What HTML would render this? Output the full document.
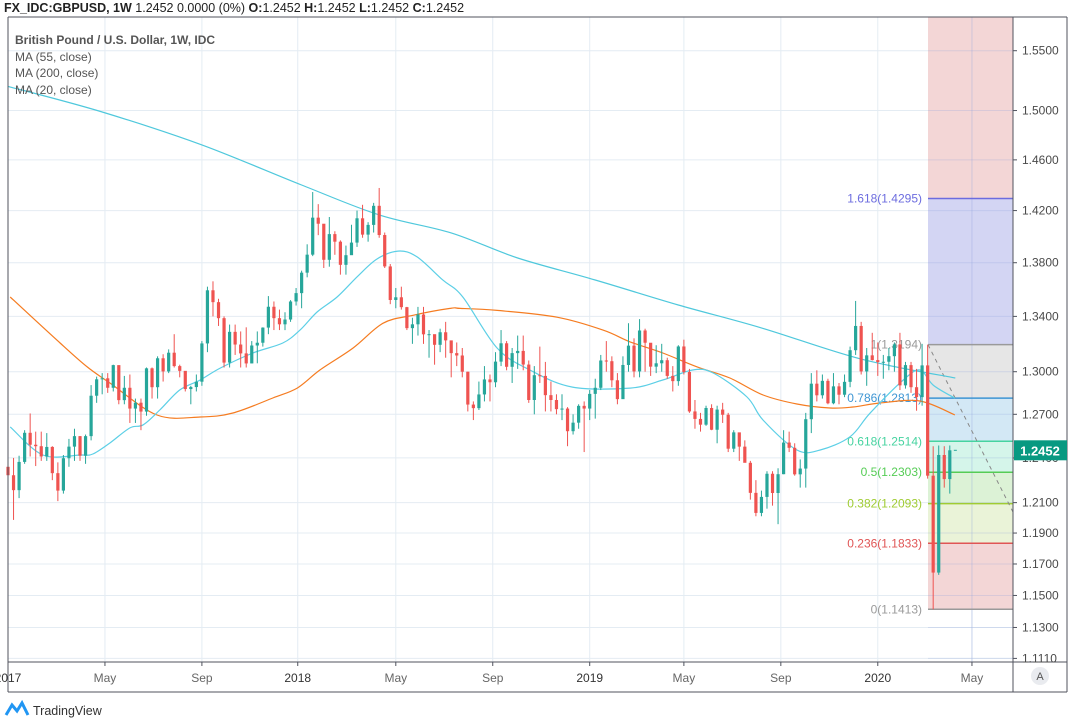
<!DOCTYPE html>
<html><head><meta charset="utf-8">
<style>
html,body{margin:0;padding:0;background:#fff;width:1069px;height:719px;overflow:hidden;font-family:"Liberation Sans",sans-serif;}
svg{display:block}
</style></head>
<body>
<svg id="chart" width="1069" height="719" xmlns="http://www.w3.org/2000/svg">
<text x="4" y="12" font-size="12.5" fill="#222"><tspan font-weight="bold">FX_IDC:GBPUSD, 1W</tspan> 1.2452 0.0000 (0%) <tspan font-weight="bold">O:</tspan>1.2452 <tspan font-weight="bold">H:</tspan>1.2452 <tspan font-weight="bold">L:</tspan>1.2452 <tspan font-weight="bold">C:</tspan>1.2452</text>
<g id="grid"></g>
<g id="fib"></g>
<g id="mas"></g>
<g id="candles"></g>
<g id="axes"></g>
<g font-size="12" fill="#555">
<text x="15" y="44" font-weight="bold">British Pound / U.S. Dollar, 1W, IDC</text>
<text x="15" y="61">MA (55, close)</text>
<text x="15" y="77">MA (200, close)</text>
<text x="15" y="94">MA (20, close)</text>
</g>
<g>
<path d="M6 715 L12 705 L17 711 L22 703 L28 715" fill="none" stroke="#2196f3" stroke-width="3"/>
<text x="33" y="715" font-size="12.5" fill="#333">TradingView</text>
</g>
</svg>
<script>
const closes=[1.2283,1.2183,1.2373,1.2572,1.2490,1.2480,1.2410,1.2475,1.2297,1.2180,1.2398,1.2477,1.2549,1.2415,1.2549,1.2830,1.2946,1.2953,1.2886,1.3047,1.2799,1.2886,1.2740,1.2781,1.2719,1.3024,1.2890,1.3096,1.3002,1.3136,1.3040,1.3006,1.2877,1.2891,1.2929,1.3203,1.3593,1.3505,1.3387,1.3065,1.3287,1.3195,1.3131,1.3059,1.3188,1.3208,1.3318,1.3471,1.3387,1.3342,1.3377,1.3510,
1.3572,1.3725,1.3861,1.4145,1.4098,1.3822,1.4018,1.3960,1.3784,1.3857,1.3953,1.4140,1.4014,1.4089,1.4237,1.4011,1.3772,1.3521,1.3541,1.3468,1.3314,1.3342,1.3414,1.3269,1.3270,1.3193,1.3284,1.3225,1.3133,1.3116,1.3000,1.2768,1.2743,1.2839,1.2945,1.2925,1.3072,1.3204,1.3035,1.3133,1.3149,1.3051,1.2800,1.2975,1.2970,1.2834,1.2800,1.2736,1.2740,1.2583,1.2642,1.2759,
1.2740,1.2843,1.2886,1.3080,1.3075,1.2939,1.2806,1.3048,1.3187,1.3002,1.3297,1.3208,1.3036,1.3060,1.3082,1.2970,1.2933,1.3181,1.2998,1.2720,1.2668,1.2628,1.2744,1.2593,1.2733,1.2697,1.2463,1.2575,1.2477,1.2367,1.2165,1.2032,1.2138,1.2293,1.2164,1.2290,1.2505,1.2469,1.2289,1.2328,1.2666,1.2915,1.2833,1.2935,1.2777,1.2896,1.2837,1.2928,1.3154,1.3330,1.3002,1.3117,1.3083,
1.3069,1.3071,1.3111,1.3196,1.2903,1.3047,1.2890,1.2820,1.3045,1.2280,1.1645,1.2420,1.2257,1.2452,1.2452];
const highs=[1.2430,1.2400,1.2415,1.2590,1.2706,1.2580,1.2580,1.2570,1.2480,1.2370,1.2420,1.2530,1.2600,1.2550,1.2560,1.2905,1.2965,1.2990,1.2990,1.3050,1.3045,1.2970,1.2980,1.2810,1.2810,1.3030,1.3030,1.3110,1.3125,1.3160,1.3270,1.3050,1.2980,1.2900,1.2980,1.3220,1.3620,1.3660,1.3530,1.3400,1.3340,1.3340,1.3290,1.3320,1.3220,1.3290,1.3320,1.3550,1.3510,1.3450,1.3430,1.3520,
1.3610,1.3740,1.3940,1.4345,1.4250,1.4070,1.4150,1.4040,1.3970,1.3930,1.4090,1.4200,1.4245,1.4110,1.4260,1.4377,1.4030,1.3790,1.3610,1.3620,1.3470,1.3390,1.3470,1.3470,1.3300,1.3260,1.3310,1.3360,1.3200,1.3210,1.3170,1.3000,1.2790,1.2930,1.3040,1.2980,1.3140,1.3300,1.3220,1.3170,1.3260,1.3260,1.3080,1.3040,1.3180,1.3070,1.2930,1.2840,1.2840,1.2750,1.2700,1.2770,
1.2790,1.2870,1.2950,1.3120,1.3220,1.3110,1.2990,1.3110,1.3350,1.3240,1.3380,1.3310,1.3200,1.3190,1.3200,1.3100,1.3040,1.3190,1.3230,1.3020,1.2800,1.2710,1.2760,1.2770,1.2760,1.2780,1.2710,1.2590,1.2530,1.2520,1.2380,1.2250,1.2180,1.2310,1.2310,1.2330,1.2590,1.2580,1.2500,1.2390,1.2710,1.2990,1.3010,1.2980,1.2950,1.2990,1.2920,1.2980,1.3180,1.3514,1.3360,1.3170,1.3280,
1.3210,1.3120,1.3170,1.3210,1.3280,1.3070,1.3070,1.3020,1.3200,1.3194,1.2480,1.2485,1.2480,1.2485,1.2452];
const lows=[1.2200,1.1986,1.2130,1.2360,1.2410,1.2345,1.2380,1.2380,1.2250,1.2110,1.2160,1.2340,1.2380,1.2380,1.2360,1.2520,1.2780,1.2840,1.2850,1.2860,1.2770,1.2770,1.2640,1.2640,1.2590,1.2690,1.2810,1.2810,1.2930,1.2990,1.3030,1.2960,1.2860,1.2770,1.2860,1.2900,1.3140,1.3400,1.3330,1.3030,1.3030,1.3120,1.3030,1.3030,1.3060,1.3060,1.3180,1.3270,1.3300,1.3300,1.3300,1.3360,
1.3480,1.3460,1.3690,1.3850,1.4010,1.3760,1.3770,1.3860,1.3710,1.3710,1.3860,1.3920,1.3990,1.3960,1.4030,1.3990,1.3760,1.3490,1.3460,1.3450,1.3300,1.3200,1.3260,1.3200,1.3100,1.3050,1.3140,1.3100,1.2960,1.3040,1.2960,1.2720,1.2660,1.2730,1.2790,1.2790,1.2890,1.3040,1.3010,1.2920,1.3020,1.3010,1.2780,1.2700,1.2920,1.2720,1.2720,1.2700,1.2660,1.2480,1.2560,1.2600,
1.2440,1.2660,1.2670,1.2870,1.3000,1.2890,1.2770,1.2810,1.3000,1.2960,1.2960,1.3000,1.2970,1.2990,1.3000,1.2950,1.2860,1.2900,1.2980,1.2710,1.2600,1.2580,1.2620,1.2590,1.2500,1.2640,1.2440,1.2440,1.2380,1.2370,1.2120,1.2010,1.2010,1.2060,1.2080,1.1958,1.2290,1.2440,1.2280,1.2200,1.2200,1.2570,1.2790,1.2810,1.2770,1.2770,1.2770,1.2820,1.2890,1.3120,1.2980,1.2900,1.3080,
1.2970,1.2950,1.3010,1.3000,1.2870,1.2880,1.2850,1.2725,1.2760,1.2260,1.1413,1.1630,1.2200,1.2160,1.2452];
const firstOpen=1.2340;
const ma200Weeks=[0,17,35,53,67,80,92,106,121,136,154,171];
const ma200Vals=[1.520,1.4988,1.472,1.440,1.4166,1.4027,1.3836,1.367,1.3484,1.3316,1.309,1.2955];
const ma55Weeks=[0.4,9.4,14.3,18.4,26.9,34.7,40.6,47.8,52.2,56.3,62.3,67.7,73.1,79.8,81.6,88.3,99.1,107.4,112.3,118.2,124.4,130.3,136.3,142.4,148.4,152.5,157.4,164.6,170.9];
const ma55Vals=[1.3543,1.3206,1.3034,1.2920,1.2695,1.2681,1.2709,1.2814,1.2884,1.3012,1.3170,1.3350,1.3408,1.3459,1.3459,1.3444,1.3394,1.3300,1.3214,1.3134,1.3034,1.2955,1.2835,1.2772,1.2744,1.2751,1.2779,1.2793,1.2696];
const ma20Weeks=[0.4,6.3,13,15.3,18.4,22,24.4,27.4,31,34.7,38.3,44.2,49.6,52.7,55.8,59.4,63,66.6,70.4,73.8,78.5,82.1,88.3,94.2,101.9,112.3,118.2,123.6,127.3,133.4,136.3,142.4,146.6,152,155.6,161.6,164.6,167,170.9];
const ma20Vals=[1.2613,1.2420,1.2420,1.2427,1.2502,1.2606,1.2627,1.2730,1.2870,1.2941,1.3026,1.3134,1.3206,1.3300,1.3432,1.3543,1.3693,1.3828,1.3888,1.3845,1.3669,1.3543,1.3169,1.3012,1.2891,1.2884,1.2941,1.3012,1.2991,1.2821,1.2660,1.2454,1.2454,1.2545,1.2708,1.2941,1.3012,1.2905,1.2813];
const priceTicks=[1.55,1.50,1.46,1.42,1.38,1.34,1.30,1.27,1.24,1.21,1.19,1.17,1.15,1.13,1.111];
const priceTickLabels=["1.5500","1.5000","1.4600","1.4200","1.3800","1.3400","1.3000","1.2700","1.2400","1.2100","1.1900","1.1700","1.1500","1.1300","1.1110"];
const timeTickWeeks=[0,17.5,35,52.3,70,87.5,105,122,139.5,157,174];
const timeTickLabels=["2017","May","Sep","2018","May","Sep","2019","May","Sep","2020","May"];
const fibRatios=[1.618,1,0.786,0.618,0.5,0.382,0.236,0];
const fibLevelLabels=["1.4295","1.3194","1.2813","1.2514","1.2303","1.2093","1.1833","1.1413"];
const fibLow=1.1413, fibHigh=1.3194;
const lastPrice=1.2452;

const NS="http://www.w3.org/2000/svg";
const PL=8,PR=1013,PT=17,PB=662;
const X=w=>8+5.54*w;
const Y=p=>371.7-1825*Math.log(p/1.3);
function mk(parent,tag,attrs){const e=document.createElementNS(NS,tag);for(const k in attrs)e.setAttribute(k,attrs[k]);parent.appendChild(e);return e;}
const grid=document.getElementById('grid'),fib=document.getElementById('fib'),mas=document.getElementById('mas'),cg=document.getElementById('candles'),axes=document.getElementById('axes');

priceTicks.forEach((p,i)=>{const y=Y(p);
 const l=mk(grid,'line',{x1:PL,x2:PR,y1:y,y2:y,stroke:'#e4ecf3','stroke-width':1});
 
 
});
timeTickWeeks.forEach(w=>{const x=X(w);
 const l=mk(grid,'line',{x1:x,x2:x,y1:PT,y2:PB,stroke:'#e4ecf3','stroke-width':1});
 
 
});

const fx1=928,fx2=PR;
const fibCols=['#6c6cdf','#9a9a9a','#3d95d3','#46d3a0','#55cc55','#a0cc33','#e05555','#9a9a9a'];
const fibFills=['#d3d5f3','#e6e6e6','#d3e8f5','#d5f5ea','#dcf2d6','#eaf3d8','#f3d6d6'];
const fibLvl=fibRatios.map(r=>fibLow+(fibHigh-fibLow)*r);
{const r=mk(fib,'rect',{x:fx1,y:PT,width:fx2-fx1,height:Y(fibLvl[0])-PT,fill:'#f3d6d6'});
 
 }
for(let i=0;i<fibLvl.length-1;i++){
 const r=mk(fib,'rect',{x:fx1,y:Y(fibLvl[i]),width:fx2-fx1,height:Y(fibLvl[i+1])-Y(fibLvl[i]),fill:fibFills[i]});
 
 
}
timeTickWeeks.forEach(w=>{const x=X(w);if(x>fx1&&x<fx2){
 const l=mk(fib,'line',{x1:x,x2:x,y1:PT,y2:PB,stroke:'rgba(140,160,220,0.35)'});
 
 }});
priceTicks.forEach(p=>{const y=Y(p);
 const l=mk(fib,'line',{x1:fx1,x2:fx2,y1:y,y2:y,stroke:'rgba(140,160,220,0.25)'});
 
 });
fibLvl.forEach((p,i)=>{const y=Y(p);
 const l=mk(fib,'line',{x1:fx1,x2:fx2,y1:y,y2:y,stroke:fibCols[i],'stroke-width':1.5});
 
 
 const t=mk(fib,'text',{x:922,y:y+4,'text-anchor':'end','font-size':12,fill:fibCols[i]});
 t.textContent=fibRatios[i]+'('+fibLevelLabels[i]+')';
 
 
});
{const l=mk(fib,'line',{x1:fx1,y1:Y(fibHigh),x2:fx2,y2:512,stroke:'#888','stroke-width':1,'stroke-dasharray':'4,4'});
 
 }

function maLine(ws,vs,col,name){
 const pts=ws.map((w,i)=>[X(w),Y(vs[i])]);
 let d='M'+pts[0][0].toFixed(1)+' '+pts[0][1].toFixed(1);
 for(let i=0;i<pts.length-1;i++){
  const p0=pts[Math.max(0,i-1)],p1=pts[i],p2=pts[i+1],p3=pts[Math.min(pts.length-1,i+2)];
  const c1=[p1[0]+(p2[0]-p0[0])/6,p1[1]+(p2[1]-p0[1])/6],c2=[p2[0]-(p3[0]-p1[0])/6,p2[1]-(p3[1]-p1[1])/6];
  d+=' C'+c1[0].toFixed(1)+' '+c1[1].toFixed(1)+' '+c2[0].toFixed(1)+' '+c2[1].toFixed(1)+' '+p2[0].toFixed(1)+' '+p2[1].toFixed(1);
 }
 const p=mk(mas,'path',{d:d,fill:'none',stroke:col,'stroke-width':1.2});
 
 }
maLine(ma200Weeks,ma200Vals,'#4fc8dc','ma200-line');
maLine(ma55Weeks,ma55Vals,'#f57c21','ma55-line');
maLine(ma20Weeks,ma20Vals,'#5ccfe6','ma20-line');

closes.forEach((c,i)=>{
 const o=i?closes[i-1]:firstOpen,h=highs[i],l=lows[i];
 const x=X(i),col=c>=o?'#26a69a':'#ef5350';
 if(i===closes.length-1){
  const d=mk(cg,'line',{x1:x-1.5,x2:x+1.5,y1:Y(c),y2:Y(c),stroke:col,'stroke-width':1});
  
  
  return;}
 const g=mk(cg,'g',{});
 
 
 mk(g,'line',{x1:x,x2:x,y1:Y(h),y2:Y(l),stroke:col,'stroke-width':1});
 const yt=Math.min(Y(o),Y(c)),yb=Math.max(Y(o),Y(c));
 mk(g,'rect',{x:x-1.6,y:yt,width:3.2,height:Math.max(1,yb-yt),fill:col});
});

const frame=[[PL,PT,1067,PT],[PL,PT,PL,692],[PR,PT,PR,692],[1067,PT,1067,692],[PL,PB,1067,PB],[PL,692,1067,692]];
frame.forEach(f=>{const l=mk(axes,'line',{x1:f[0],y1:f[1],x2:f[2],y2:f[3],stroke:'#50535e','stroke-width':1});
 
 });
priceTicks.forEach((p,i)=>{const y=Y(p);
 mk(axes,'line',{x1:PR,x2:PR+4,y1:y,y2:y,stroke:'#50535e'});
 const t=mk(axes,'text',{x:1022,y:y+4,'font-size':12,fill:'#4a4a4a'});
 t.textContent=priceTickLabels[i];
 
 });
timeTickWeeks.forEach((w,i)=>{const x=X(w);
 mk(axes,'line',{x1:x,x2:x,y1:PB,y2:PB+4,stroke:'#50535e'});
 const isYear=/^\d/.test(timeTickLabels[i]);
 const t=mk(axes,'text',{x:x,y:682,'font-size':12,'text-anchor':'middle',fill:isYear?'#333':'#666'});
 t.textContent=timeTickLabels[i];
 
 });
{const c=mk(axes,'circle',{cx:1040,cy:676,r:9,fill:'#e9ebef'});
 
 
 const t=mk(axes,'text',{x:1040,y:680,'font-size':11,'text-anchor':'middle',fill:'#555'});t.textContent='A';}
{const y=Y(lastPrice);
 const r=mk(axes,'rect',{x:PR+1,y:y-10,width:53,height:20,fill:'#089981'});
 
 
 const t=mk(axes,'text',{x:1040,y:y+5,'font-size':13,'font-weight':'bold','text-anchor':'middle',fill:'#fff'});
 t.textContent=lastPrice.toFixed(4);}
</script>
</body></html>
